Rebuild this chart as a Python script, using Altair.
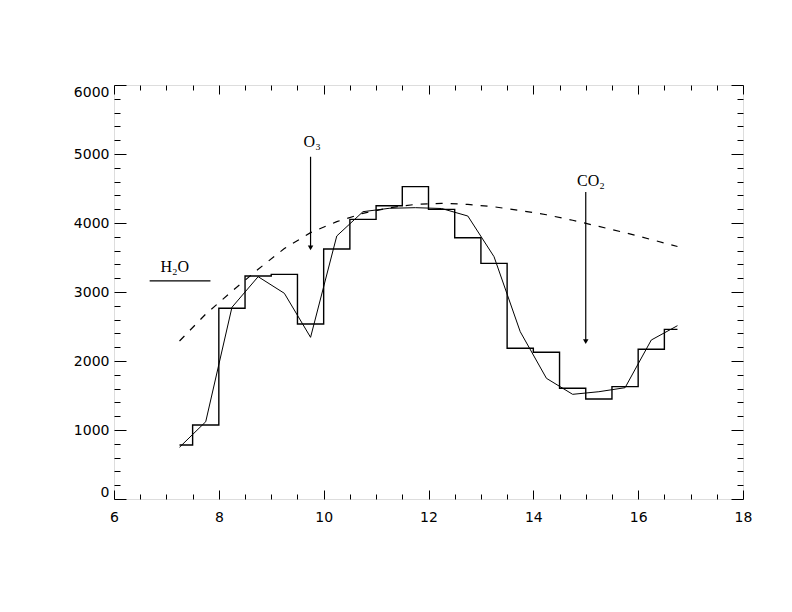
import altair as alt
import pandas as pd

# ---- data ----
wavelength = [7.25, 7.75, 8.25, 8.75, 9.25, 9.75, 10.25, 10.75, 11.25, 11.75,
              12.25, 12.75, 13.25, 13.75, 14.25, 14.75, 15.25, 15.75, 16.25, 16.75]
binned = [783, 1072, 2764, 3232, 3256, 2536, 3623, 4053, 4251, 4527,
          4198, 3787, 3415, 2184, 2126, 1604, 1449, 1628, 2170, 2459]
smooth = [750, 1120, 2778, 3222, 2981, 2343, 3812, 4164, 4213, 4222,
          4210, 4101, 3512, 2425, 1749, 1517, 1555, 1613, 2304, 2512]
continuum = [2290, 2680, 3010, 3330, 3630, 3860, 4020, 4140, 4220, 4270,
             4285, 4270, 4235, 4180, 4120, 4040, 3950, 3860, 3760, 3660]

x_major = [6, 8, 10, 12, 14, 16, 18]
x_minor = [6.5, 7, 7.5, 8.5, 9, 9.5, 10.5, 11, 11.5, 12.5, 13, 13.5,
           14.5, 15, 15.5, 16.5, 17, 17.5]
y_major = [0, 1000, 2000, 3000, 4000, 5000, 6000]
y_minor = [v for v in range(200, 6000, 200) if v % 1000 != 0]

# annotations: label, label position, arrow start / end
labels = ["O₃", "CO₂", "H₂O"]
label_x = [9.78, 15.1, 7.16]
label_y = [5170, 4610, 3360]
arrow_x = [9.75, 15.0]
arrow_top = [4960, 4450]
arrow_tip = [3640, 2280]
h2o_line = {"x": 6.68, "x2": 7.84, "y": 3160}

df = pd.DataFrame({"w": wavelength, "binned": binned, "smooth": smooth,
                   "cont": continuum})
lab_df = pd.DataFrame({"t": labels, "x": label_x, "y": label_y})
arr_df = pd.DataFrame({"x": arrow_x, "y": arrow_top, "y2": arrow_tip})
line_df = pd.DataFrame([h2o_line])

W, H = 629, 414
xs = alt.Scale(domain=[6, 18], nice=False, zero=False)
ys = alt.Scale(domain=[0, 6000], nice=False, zero=False)

common = dict(domain=False, grid=False, title=None, tickColor="black",
              tickWidth=1)
ax_b_major = alt.Axis(orient="bottom", offset=-9, tickSize=9, values=x_major,
                      labelPadding=11, labelFont="DejaVu Sans", labelFontSize=14,
                      labelColor="black", format="d", labelFlush=False,
                      labelOverlap=False, **common)
ax_b_minor = alt.Axis(orient="bottom", offset=-5, tickSize=5, values=x_minor,
                      labels=False, **common)
ax_t_major = alt.Axis(orient="top", offset=-9, tickSize=9, values=x_major,
                      labels=False, **common)
ax_t_minor = alt.Axis(orient="top", offset=-5, tickSize=5, values=x_minor,
                      labels=False, **common)
ay_l_major = alt.Axis(orient="left", offset=-12, tickSize=12, values=y_major,
                      labelPadding=5, labelFont="DejaVu Sans", labelFontSize=14,
                      labelColor="black", format="d", labelFlush=True,
                      labelOverlap=False, **common)
ay_l_minor = alt.Axis(orient="left", offset=-6, tickSize=6, values=y_minor,
                      labels=False, **common)
ay_r_major = alt.Axis(orient="right", offset=-12, tickSize=12, values=y_major,
                      labels=False, **common)
ay_r_minor = alt.Axis(orient="right", offset=-6, tickSize=6, values=y_minor,
                      labels=False, **common)

base = alt.Chart(df)

step = base.mark_line(interpolate="step", color="black", strokeWidth=1.4).encode(
    x=alt.X("w:Q", scale=xs, axis=ax_b_major),
    y=alt.Y("binned:Q", scale=ys, axis=ay_l_major),
)
smooth_l = base.mark_line(color="black", strokeWidth=1).encode(
    x=alt.X("w:Q", scale=xs, axis=ax_b_minor),
    y=alt.Y("smooth:Q", scale=ys, axis=ay_l_minor),
)
cont_l = base.mark_line(color="black", strokeWidth=1.2, strokeDash=[7, 8]).encode(
    x=alt.X("w:Q", scale=xs, axis=ax_t_major),
    y=alt.Y("cont:Q", scale=ys, axis=ay_r_major),
)
h2o = alt.Chart(line_df).mark_rule(color="black", strokeWidth=1.2).encode(
    x=alt.X("x:Q", scale=xs, axis=ax_t_minor),
    x2="x2:Q",
    y=alt.Y("y:Q", scale=ys, axis=ay_r_minor),
)
shafts = alt.Chart(arr_df).mark_rule(color="black", strokeWidth=1.2).encode(
    x=alt.X("x:Q", scale=xs, axis=None),
    y=alt.Y("y:Q", scale=ys, axis=None),
    y2="y2:Q",
)
heads = alt.Chart(arr_df).mark_point(shape="triangle-down", filled=True,
                                     color="black", size=30, opacity=1).encode(
    x=alt.X("x:Q", scale=xs, axis=None),
    y=alt.Y("y2:Q", scale=ys, axis=None),
)
texts = alt.Chart(lab_df).mark_text(font="Liberation Serif", fontSize=16,
                                    color="black", align="center",
                                    baseline="middle").encode(
    x=alt.X("x:Q", scale=xs, axis=None),
    y=alt.Y("y:Q", scale=ys, axis=None),
    text="t:N",
)

chart = alt.layer(step, smooth_l, cont_l, h2o, shafts, heads, texts).resolve_scale(
    x="shared", y="shared"
).resolve_axis(
    x="independent", y="independent"
).properties(
    width=W, height=H,
    autosize=alt.AutoSizeParams(type="none"),
    padding={"left": 106, "top": 77, "right": 40, "bottom": 60},
).configure_view(stroke="black", strokeWidth=1).configure(background="white")

chart.save("out.html", embed_options={"renderer": "svg", "actions": False})
